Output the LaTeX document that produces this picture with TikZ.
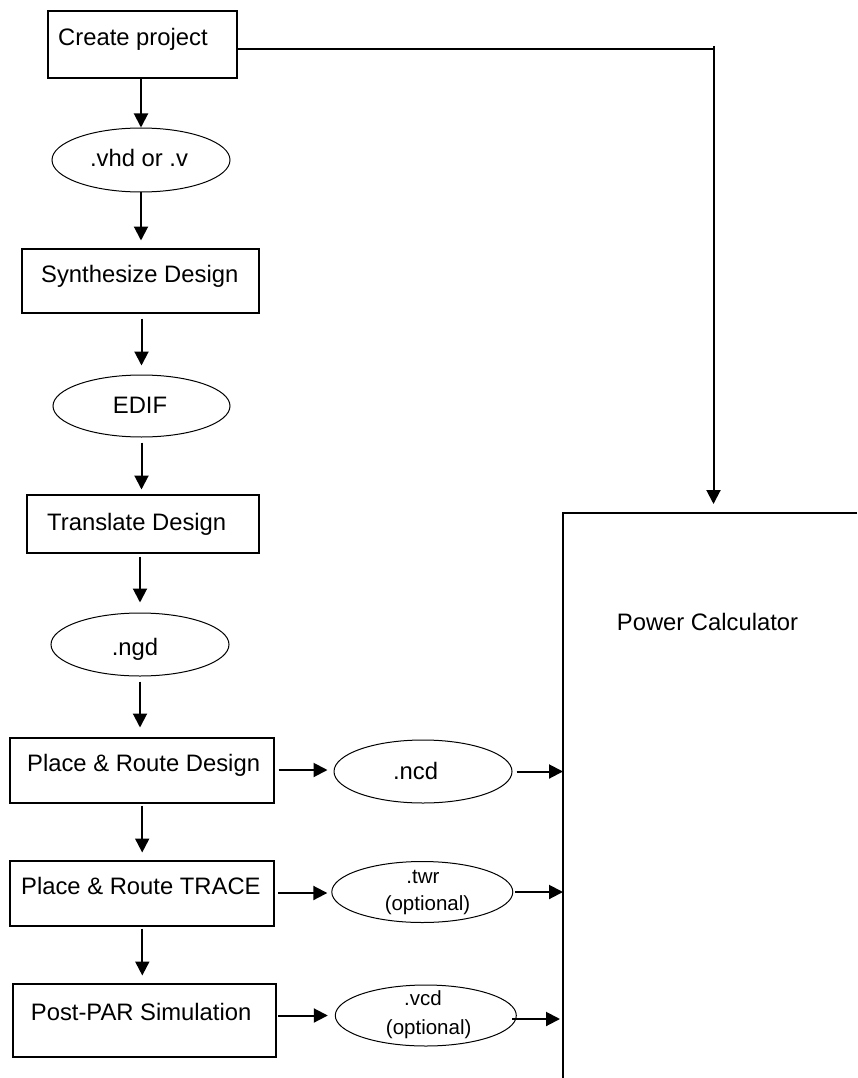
\documentclass[tikz,border=0pt]{standalone}
\usepackage{fontspec}
\setmainfont{Liberation Sans}
\usetikzlibrary{arrows.meta,shapes.geometric}
\begin{document}
\begin{tikzpicture}[x=1pt,y=-1pt,
  box/.style={draw,line width=2pt,rectangle,inner sep=0pt},
  oval/.style={draw,line width=1pt,ellipse,inner sep=0pt},
  lbl/.style={inner sep=0pt,font=\fontsize{23.8}{28}\selectfont},
  slbl/.style={inner sep=0pt,font=\fontsize{20.5}{24}\selectfont},
  arr/.style={line width=2pt,-{Triangle[length=14pt,width=14pt]}},
  ln/.style={line width=2pt}]
\useasboundingbox (0,0) rectangle (857,1078);

% boxes and ovals
\node[box,minimum width=189pt,minimum height=67pt] (cp) at (142,44.8) {};
\node[oval,minimum width=178pt,minimum height=64pt] (vhd) at (141,160) {};
\node[box,minimum width=237pt,minimum height=64pt] (syn) at (140,280.5) {};
\node[oval,minimum width=177pt,minimum height=62pt] (edif) at (141.5,406) {};
\node[box,minimum width=232pt,minimum height=58pt] (tr) at (142.5,523.5) {};
\node[oval,minimum width=178pt,minimum height=63pt] (ngd) at (140,644.5) {};
\node[box,minimum width=264pt,minimum height=65pt] (prd) at (142.2,770) {};
\node[oval,minimum width=178pt,minimum height=63pt] (ncd) at (423,771.5) {};
\node[box,minimum width=264pt,minimum height=65pt] (prt) at (142.3,893) {};
\node[oval,minimum width=181pt,minimum height=61pt] (twr) at (422.3,892) {};
\node[box,minimum width=263pt,minimum height=73pt] (pps) at (144.8,1020) {};
\node[oval,minimum width=181pt,minimum height=61pt] (vcd) at (425.8,1015.5) {};

% texts
\node[lbl,anchor=base west] (tcp) at (58,45.5) {Create project};
\node[lbl,anchor=base] (tvhd) at (139,167) {.vhd or .v};
\node[lbl,anchor=base west] (tsyn) at (41,282.5) {Synthesize Design};
\node[lbl,anchor=base] (tedif) at (140,413) {EDIF};
\node[lbl,anchor=base west] (ttr) at (47,530) {Translate Design};
\node[lbl,anchor=base] (tngd) at (135,655) {.ngd};
\node[lbl,anchor=base west] (tprd) at (27,771.7) {Place \& Route Design};
\node[lbl,anchor=base] (tncd) at (415.5,779) {.ncd};
\node[lbl,anchor=base west] (tprt) at (21,894) {Place \& Route TRACE};
\node[slbl,anchor=base] (ttwr) at (423,883) {.twr};
\node[slbl,anchor=base] (ttwro) at (427.5,910) {(optional)};
\node[lbl,anchor=base west] (tpps) at (30.7,1020) {Post-PAR Simulation};
\node[slbl,anchor=base] (tvcd) at (423,1005.7) {.vcd};
\node[slbl,anchor=base] (tvcdo) at (428.7,1034) {(optional)};
\node[lbl,anchor=base] (pc) at (707.5,630) {Power Calculator};

% power calculator box (cut by the page edge)
\coordinate (pcTL) at (563,513);
\draw[ln] (857,513) -- (pcTL) -- (563,1078);

% top connector
\coordinate (corner) at (713.5,49);
\draw[ln] (cp.east |- corner) -- (corner);
\draw[arr,shorten >=9pt] ([yshift=3pt]corner) -- (corner |- pcTL);

% vertical flow
\draw[arr] (vhd.north |- cp.south) -- (vhd.north);
\draw[arr,shorten >=7pt] (vhd.south) -- (vhd.south |- syn.north);
\draw[arr,shorten <=5pt,shorten >=9pt] (edif.north |- syn.south) -- (edif.north);
\draw[arr,shorten <=5pt,shorten >=4pt] (edif.south) -- (edif.south |- tr.north);
\draw[arr,shorten <=3pt,shorten >=10pt] (ngd.north |- tr.south) -- (ngd.north);
\draw[arr,shorten <=5pt,shorten >=9pt] (ngd.south) -- (ngd.south |- prd.north);
\draw[arr,shorten <=2pt,shorten >=7pt] (prd.south) -- (prd.south |- prt.north);
\draw[arr,shorten <=2pt,shorten >=7pt] (prt.south) -- (prt.south |- pps.north);

% horizontal flow
\draw[arr,shorten <=3.5pt,shorten >=6pt] (prd.east) -- (prd.east -| ncd.west);
\draw[arr,shorten <=4pt] (ncd.east) -- (ncd.east -| pcTL);
\draw[arr,shorten <=3pt,shorten >=4pt] (prt.east) -- (prt.east -| twr.west);
\draw[arr,shorten <=1.5pt] (twr.east) -- (twr.east -| pcTL);
\draw[arr,shorten <=1pt,shorten >=7pt] (vcd.west -| pps.east) -- (vcd.west);
\draw[arr,shorten <=-4.7pt,shorten >=3pt] ([yshift=-3.5pt]vcd.east) -- ([yshift=-3.5pt]vcd.east -| pcTL);
\end{tikzpicture}
\end{document}
